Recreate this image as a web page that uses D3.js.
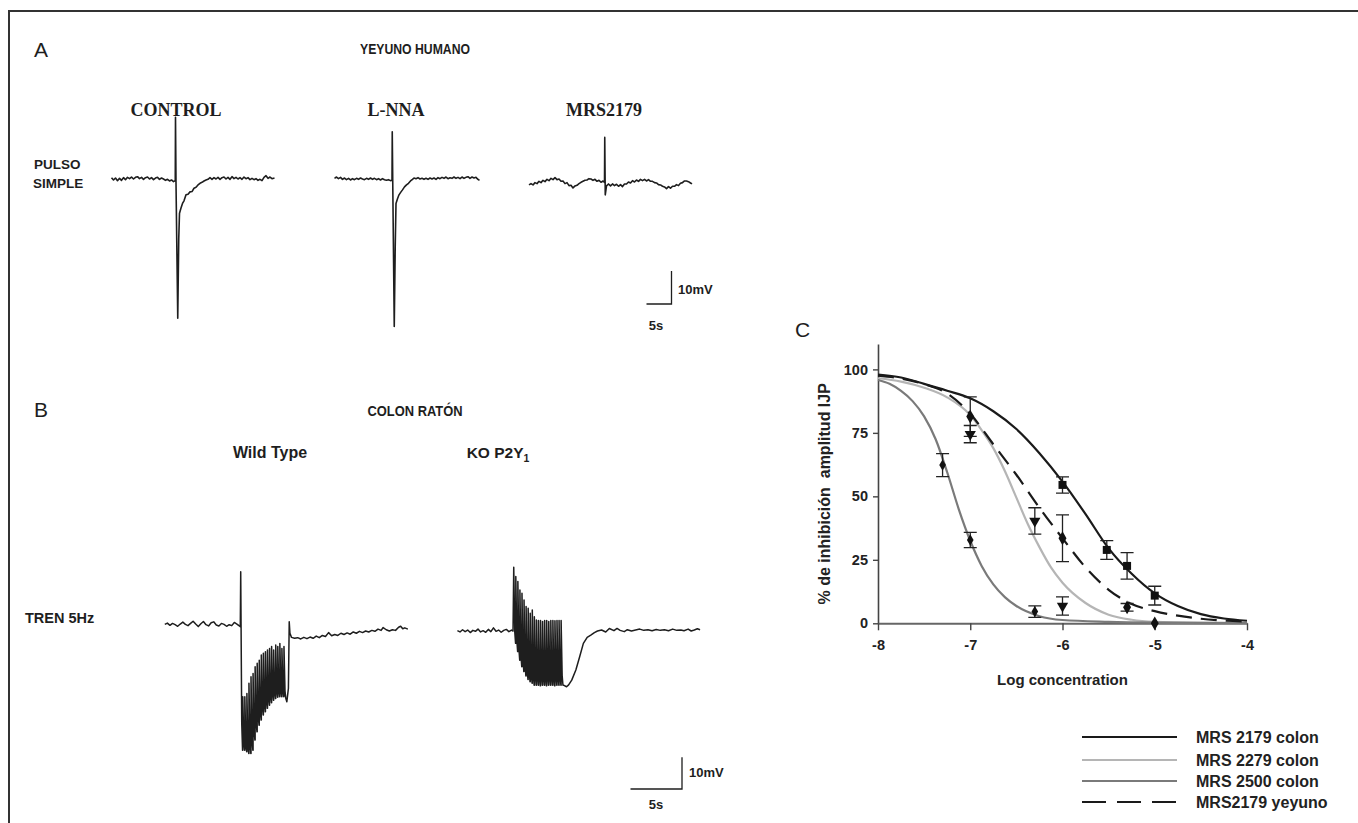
<!DOCTYPE html>
<html><head><meta charset="utf-8">
<script src="https://cdn.jsdelivr.net/npm/d3@7"></script>
<style>
html,body{margin:0;padding:0;background:#fff;}
svg{display:block;font-family:"Liberation Sans",Arial,sans-serif;}
</style></head><body>
<svg id="fig" width="1358" height="823"></svg>
<script>
// ---------- Panel C data ----------
const xTicksC = [-8, -7, -6, -5, -4];
const yTicksC = [0, 25, 50, 75, 100];
const legendLabels = ["MRS 2179 colon", "MRS 2279 colon", "MRS 2500 colon", "MRS2179 yeyuno"];

const fitColon2179 = [[-8,98],[-7.75,96.8],[-7.5,94.3],[-7.25,91.6],[-7,88.6],[-6.75,83.5],[-6.5,76.5],[-6.25,67],[-6,55.8],[-5.75,43],[-5.5,29.5],[-5.25,19.5],[-5,11.8],[-4.75,6.8],[-4.5,3.6],[-4.25,1.9],[-4,1]];
const fitColon2279 = [[-8,96.5],[-7.75,95.2],[-7.5,92.8],[-7.25,89],[-7,82],[-6.875,76],[-6.75,69],[-6.625,60],[-6.5,49.5],[-6.375,39],[-6.25,30],[-6.125,22],[-6,16],[-5.75,8],[-5.5,3.4],[-5.25,1.4],[-5,0.6],[-4.5,0.2],[-4,0.1]];
const fitColon2500 = [[-8,95.8],[-7.875,94.3],[-7.75,91.5],[-7.625,87.5],[-7.5,81.5],[-7.375,72.5],[-7.25,59.5],[-7.125,45],[-7,32.5],[-6.875,22.5],[-6.75,15.3],[-6.625,10.3],[-6.5,6.8],[-6.25,2.8],[-6,1.3],[-5.5,0.6],[-5,0.3],[-4,0.1]];
const fitYeyuno2179 = [[-8,97.5],[-7.75,96.4],[-7.5,94.2],[-7.25,90.5],[-7,82.5],[-6.75,70.5],[-6.5,58.5],[-6.25,45.5],[-6,33.5],[-5.75,22],[-5.5,13.2],[-5.25,7.6],[-5,4.8],[-4.75,3],[-4.5,1.8],[-4.25,1.1],[-4,0.7]];

const concColon2179 = [-6, -5.52, -5.3, -5];
const meanColon2179 = [54.5, 28.9, 22.6, 10.9];
const semColon2179  = [3.2, 3.7, 5.2, 3.7];
const concColon2279 = [-7, -6.3, -6];
const meanColon2279 = [74.5, 40.3, 6.8];
const semColon2279  = [3.4, 5.2, 3.6];
const concColon2500 = [-7.3, -7, -6.3];
const meanColon2500 = [62.3, 32.8, 4.6];
const semColon2500  = [4.5, 3.0, 2.3];
const concYeyuno2179 = [-7, -6, -5.3, -5];
const meanYeyuno2179 = [81.4, 33.5, 6.3, 0];
const semYeyuno2179  = [7.8, 9.2, 1.5, 0];

// ---------- Panel A traces (t in s, v in mV) ----------
const traceControl = [[0,0.4],[0.4,-0.3],[0.8,0.3],[1.2,-0.5],[1.6,0.2],[2,-0.4],[2.4,0.4],[2.8,-0.2],[3.2,0.5],[3.6,0.1],[4,0.6],[4.4,0],[4.8,0.5],[5.2,0.7],[5.6,0.1],[6,0.5],[6.4,-0.1],[6.8,0.4],[7.2,0.6],[7.6,0],[8,0.4],[8.4,-0.2],[8.8,0.3],[9.2,0.5],[9.6,-0.1],[10,0.3],[10.4,0],[10.8,-0.4],[11.2,-0.1],[11.6,-0.6],[12,-0.3],[12.4,-0.8],[12.75,-0.5],[12.8,18.7],[12.9,-1],[13.25,-42.2],[13.45,-18],[13.6,-10.4],[13.9,-8.8],[14.2,-7.4],[14.5,-6.6],[14.9,-4.8],[15.3,-4.6],[15.7,-3.9],[16.1,-3.8],[16.5,-2.8],[16.9,-2.5],[17.3,-1.8],[17.7,-1.3],[18.1,-1.0],[18.5,-0.6],[18.9,-0.3],[19.3,-0.1],[19.7,0.4],[20.1,-0.1],[20.5,0.4],[20.9,0],[21.3,0.5],[21.7,-0.1],[22.1,0.4],[22.5,0.6],[22.9,0],[23.3,0.5],[23.7,-0.1],[24.1,0.7],[24.5,0.1],[24.9,0.5],[25.3,0],[25.7,0.4],[26.1,-0.1],[26.5,0.6],[26.9,0.1],[27.3,0.4],[27.7,-0.2],[28.1,0.2],[28.5,-0.2],[28.9,0.1],[29.3,-0.4],[29.7,-0.1],[30.1,-0.5],[30.5,0.5],[30.9,1.0],[31.3,0.2],[31.7,0.6],[32.1,0.1],[32.6,0.3]];
const traceLNNA = [[0,0.2],[0.4,0.6],[0.8,0.1],[1.2,0.5],[1.6,-0.1],[2,0.3],[2.4,-0.2],[2.8,0.2],[3.2,-0.3],[3.6,0.1],[4,-0.2],[4.4,0.2],[4.8,-0.1],[5.2,0.3],[5.6,0],[6,-0.2],[6.4,0.2],[6.8,-0.1],[7.2,0.3],[7.6,-0.1],[8,0.2],[8.4,-0.2],[8.8,0.1],[9.2,-0.3],[9.6,0.1],[10,-0.2],[10.4,-0.4],[10.8,-0.2],[11.2,-0.5],[11.5,-0.4],[11.55,14.3],[11.65,-1],[11.95,-44.7],[12.15,-20],[12.3,-7.4],[12.6,-6],[12.9,-4.8],[13.3,-3.9],[13.6,-3.3],[14.0,-2.4],[14.4,-1.8],[14.8,-1.3],[15.2,-0.6],[15.6,-0.1],[15.9,0.3],[16.3,0.1],[16.7,0.4],[17.1,0],[17.5,0.2],[17.9,-0.1],[18.3,0.2],[18.7,-0.1],[19.1,0.3],[19.5,0],[19.9,0.3],[20.3,-0.1],[20.7,0.4],[21.1,0.1],[21.5,0.5],[21.9,0.2],[22.3,0.6],[22.7,0.1],[23.1,0.4],[23.5,0.2],[23.9,0.6],[24.3,0.2],[24.7,0.5],[25.1,0.1],[25.5,0.6],[25.9,0.2],[26.3,0.5],[26.7,0.7],[27.1,0.2],[27.5,0.6],[27.9,0.3],[28.3,0.5],[28.6,0],[29,-0.4]];
const traceMRS2179 = [[0,-1.8],[0.4,-1.4],[0.8,-1.8],[1.2,-1.1],[1.6,-1.4],[2,-0.7],[2.4,-1.1],[2.8,-0.4],[3.2,-0.8],[3.6,-0.1],[4,-0.5],[4.4,0.2],[4.8,-0.2],[5.2,0.4],[5.6,-0.2],[6,0],[6.4,-0.7],[6.8,-0.6],[7.2,-1.4],[7.6,-1.1],[8,-2.0],[8.4,-1.9],[8.8,-2.7],[9.2,-2.1],[9.6,-1.9],[10,-1.4],[10.4,-1.0],[10.8,-0.7],[11.2,-0.4],[11.6,-0.3],[12,0.1],[12.4,0],[12.8,-0.4],[13.2,-0.1],[13.6,-0.7],[14,-0.4],[14.4,-1.0],[14.8,-0.6],[15.1,-1.0],[15.15,12.6],[15.25,-4.8],[15.5,-2.1],[15.9,-1.5],[16.3,-2.1],[16.7,-1.5],[17.1,-2.0],[17.5,-1.6],[17.9,-2.2],[18.3,-1.7],[18.7,-2.3],[19.1,-1.5],[19.5,-1.5],[19.9,-0.9],[20.3,-1.2],[20.7,-0.5],[21.1,-0.9],[21.5,-0.3],[21.9,-0.7],[22.3,-0.1],[22.7,-0.5],[23.1,-0.1],[23.5,-0.6],[23.9,-0.2],[24.3,-0.7],[24.7,-0.7],[25.1,-1.1],[25.5,-1.2],[25.9,-1.7],[26.3,-1.8],[26.7,-2.2],[27.1,-2.4],[27.5,-2.9],[27.9,-2.3],[28.3,-2.8],[28.7,-2.2],[29.1,-2.2],[29.5,-1.7],[29.9,-2.0],[30.3,-1.3],[30.7,-1.1],[31.1,-0.6],[31.5,-0.6],[31.9,-0.8],[32.3,-1.2],[32.6,-1.5]];

// ---------- Panel B traces ----------
const trainPeriod = 0.2; // 5 Hz
const wtPre = [[0,0.2],[0.25,0.6],[0.5,-0.1],[0.75,0.5],[1,0.1],[1.25,-0.4],[1.5,0.3],[1.75,0.9],[2,0.2],[2.25,-0.2],[2.5,0.5],[2.75,1.2],[3,0.3],[3.25,-0.5],[3.5,0.4],[3.75,1.1],[4,0.1],[4.25,-0.3],[4.5,0.7],[4.75,1.0],[5,0],[5.25,-0.3],[5.5,0.5],[5.75,0.2],[6,-0.4],[6.25,0.1],[6.5,-0.2],[6.75,0.8],[7,0.3],[7.2,-0.2],[7.33,-0.5]];
const wtTrainStart = 7.37;
const wtTrainTop = [16.8,-22.6,-22.6,-21.6,-18.4,-16.3,-15.3,-13.2,-12.1,-11.1,-9.5,-8.9,-8.4,-7.9,-7.4,-6.8,-7.9,-6.3,-6.8,-5.8,-7.4,-6.8];
const wtTrainBottom = [-39.5,-39.5,-40,-40.5,-40.5,-39.5,-36.3,-33.7,-31.6,-30,-28.4,-27.4,-26.3,-25.3,-24.5,-23.7,-23.2,-22.8,-22.6,-22.6,-22.6,-23.2];
const wtPost = [[11.75,-23.2],[11.85,-24.2],[12.0,-20],[12.08,1.0],[12.15,-2.6],[12.3,-3.9],[12.6,-4.2],[12.9,-4.0],[13.2,-4.4],[13.5,-3.9],[13.8,-4.3],[14.1,-3.8],[14.4,-4.2],[14.7,-3.5],[15.0,-4.0],[15.3,-3.3],[15.6,-3.6],[15.9,-2.4],[16.2,-3.4],[16.5,-3.0],[16.8,-3.3],[17.1,-2.6],[17.4,-3.0],[17.7,-2.5],[18.0,-2.9],[18.3,-2.2],[18.6,-2.6],[18.9,-2.0],[19.2,-2.4],[19.5,-1.9],[19.8,-2.2],[20.1,-1.7],[20.4,-2.0],[20.7,-1.3],[21.0,-1.7],[21.2,-0.8],[21.5,-1.5],[21.8,-1.9],[22.1,-1.5],[22.4,-1.7],[22.7,-0.7],[22.9,-0.4],[23.1,-1.2],[23.3,-0.9],[23.6,-1.3]];

const koPre = [[0,0.1],[0.25,-0.3],[0.5,0.4],[0.75,-0.2],[1,0.3],[1.25,-0.5],[1.5,0.2],[1.75,-0.1],[2,0.6],[2.25,-0.3],[2.5,0.1],[2.75,-0.4],[3,0.5],[3.25,-0.2],[3.5,1.0],[3.75,-0.1],[4,0.3],[4.25,-0.4],[4.5,0.2],[4.75,0.5],[5,-0.2],[5.25,0.3],[5.4,0]];
const koTrainStart = 5.47;
const koTrainTop = [20.1,17.2,15.6,12.9,11.9,9.8,7.7,7.2,5.6,6.6,4.5,3.5,3.3,3.3,3.0,3.3,3.3,3.0,3.3,3.3,3.2,3.3,3.3,3.3];
const koTrainBottom = [-3.9,-6.5,-9.2,-11.3,-12.8,-14.2,-15.3,-16,-16.5,-17.1,-17.1,-17.1,-17.3,-17.1,-17.1,-17.3,-17.1,-17.1,-17.1,-17.3,-17.1,-17.1,-17.1,-17.1];
const koPost = [[10.3,-17.1],[10.6,-17.6],[10.8,-17],[11.1,-15.5],[11.5,-12.3],[11.87,-8.1],[12.23,-3.9],[12.6,-2],[12.95,-1.3],[13.3,-0.5],[13.6,0],[14,0.3],[14.4,-0.3],[14.75,0.8],[15.2,0.1],[15.5,0.8],[15.8,0.2],[16.2,-0.2],[16.5,0.4],[16.9,0],[17.3,0.3],[17.7,0.6],[18.1,0.2],[18.5,0.4],[18.9,0.1],[19.3,0.5],[19.7,0.2],[20.1,0.4],[20.5,0.1],[20.9,0.6],[21.3,0.2],[21.7,0.3],[22,0.1],[22.4,0.6],[22.7,0.0],[23.0,0.3],[23.3,0.7],[23.56,0.4]];

// ---------- drawing ----------
const svg = d3.select("#fig");
const ink = "#1e1e1e";

svg.append("rect").attr("x", 9).attr("y", 11).attr("width", 1362).attr("height", 830)
  .attr("fill", "none").attr("stroke", "#333").attr("stroke-width", 2);

function txt(x, y, s, opts = {}) {
  const t = svg.append("text").attr("x", x).attr("y", y).text(s)
    .attr("font-size", opts.size || 14)
    .attr("font-weight", opts.weight || "bold")
    .attr("font-family", opts.family || null)
    .attr("text-anchor", opts.anchor || "start")
    .attr("fill", opts.fill || ink);
  if (opts.len) t.attr("textLength", opts.len).attr("lengthAdjust", "spacingAndGlyphs");
  return t;
}

// Panel labels & titles
txt(34, 57, "A", {size: 21, weight: "normal"});
txt(415, 54, "YEYUNO HUMANO", {size: 15.5, anchor: "middle", len: 110});
const serif = "'Liberation Serif','Times New Roman',serif";
txt(176, 116, "CONTROL", {size: 18, anchor: "middle", family: serif});
txt(396, 116, "L-NNA", {size: 18, anchor: "middle", family: serif});
txt(604, 116, "MRS2179", {size: 18, anchor: "middle", family: serif});
txt(34, 169, "PULSO", {size: 13.5});
txt(33, 188, "SIMPLE", {size: 13.5});

txt(34, 417, "B", {size: 21, weight: "normal"});
txt(415, 416, "COLON RATÓN", {size: 15.5, anchor: "middle", len: 95});
txt(270, 458, "Wild Type", {size: 16, anchor: "middle"});
const ko = txt(498, 458, "KO P2Y", {size: 15.5, anchor: "middle"});
ko.append("tspan").attr("font-size", 10.5).attr("dy", 4).text("1");
txt(25, 623, "TREN 5Hz", {size: 14.5});

// trace helper
function drawTrace(pts, x0, y0, pxPerSec, pxPerMv, w) {
  const xs = d3.scaleLinear().domain([0, 1]).range([x0, x0 + pxPerSec]);
  const ys = d3.scaleLinear().domain([0, 1]).range([y0, y0 - pxPerMv]);
  svg.append("path").datum(pts)
    .attr("d", d3.line().x(d => xs(d[0])).y(d => ys(d[1])))
    .attr("fill", "none").attr("stroke", ink).attr("stroke-width", w)
    .attr("stroke-linejoin", "round");
}
// each 5 Hz pulse: instantaneous rise to its peak, then decay to its trough
function trainPoints(t0, tops, bottoms) {
  const pts = [];
  tops.forEach((tp, i) => {
    const t = t0 + i * trainPeriod;
    if (i > 0) pts.push([t, bottoms[i - 1]]);
    pts.push([t, tp]);
    pts.push([t + 0.1, bottoms[i] + 0.15 * (tp - bottoms[i])]);
    pts.push([t + 0.18, bottoms[i]]);
  });
  return pts;
}
function scaleBar(xEnd, yBottom, secPx, mvPx, labelMvX, labelMvY, labelSX, labelSY) {
  svg.append("path")
    .attr("d", `M${xEnd - secPx},${yBottom}H${xEnd}V${yBottom - mvPx}`)
    .attr("fill", "none").attr("stroke", ink).attr("stroke-width", 1.3);
  txt(labelMvX, labelMvY, "10mV", {size: 13});
  txt(labelSX, labelSY, "5s", {size: 13, anchor: "middle"});
}

// Panel A
const aSec = 5, aMv = 3.3;
drawTrace(traceControl, 111.5, 179, aSec, aMv, 1.6);
drawTrace(traceLNNA, 334.5, 179, aSec, aMv, 1.6);
drawTrace(traceMRS2179, 529, 179, aSec, aMv, 1.6);
scaleBar(671.5, 304, 5 * aSec, 10 * aMv, 678, 294, 656, 330);

// Panel B
const bSec = 10.3, bMv = 3.17;
drawTrace(wtPre.concat(trainPoints(wtTrainStart, wtTrainTop, wtTrainBottom), wtPost), 164.8, 625, bSec, bMv, 1.5);
drawTrace(koPre.concat(trainPoints(koTrainStart, koTrainTop, koTrainBottom), koPost), 457.4, 631, bSec, bMv, 1.5);
scaleBar(682, 789, 5 * bSec, 10 * bMv, 689, 777, 656, 809);

// Panel C
txt(795, 337, "C", {size: 21, weight: "normal"});
const xC = d3.scaleLinear().domain([-8, -4]).range([878, 1247]);
const yC = d3.scaleLinear().domain([0, 110]).range([623.3, 344]);
const gC = svg.append("g");

const yAx = gC.append("g").attr("transform", `translate(${xC(-8)},0)`)
  .call(d3.axisLeft(yC).tickValues(yTicksC).tickSize(5).tickSizeOuter(0).tickPadding(5).tickFormat(d => String(d)));
const xAx = gC.append("g").attr("transform", `translate(0,${yC(0)})`)
  .call(d3.axisBottom(xC).tickValues(xTicksC).tickSize(7).tickSizeOuter(0).tickPadding(9).tickFormat(d => String(d)));
[yAx, xAx].forEach(a => {
  a.selectAll("text").attr("font-size", 14.5).attr("font-weight", "bold").attr("fill", "#222")
    .attr("font-family", "'Liberation Sans',Arial,sans-serif");
  a.selectAll("line").attr("stroke", "#444").attr("stroke-width", 1.4);
});
yAx.select(".domain").attr("stroke", "#444").attr("stroke-width", 1.6);
xAx.select(".domain").attr("stroke", "#666").attr("stroke-width", 2);

svg.append("text").attr("transform", `translate(830,${yC(51)}) rotate(-90)`)
  .attr("text-anchor", "middle").attr("font-size", 16).attr("font-weight", "bold").attr("fill", "#222")
  .style("white-space", "pre")
  .text("% de inhibición  amplitud IJP");
txt(xC(-6), 685, "Log concentration", {size: 15, anchor: "middle", fill: "#222"});

const lineGen = d3.line().x(d => xC(d[0])).y(d => yC(d[1])).curve(d3.curveMonotoneX);
const seriesStyles = [
  {fit: fitColon2179, color: "#1a1a1a", dash: null},
  {fit: fitColon2279, color: "#b5b5b5", dash: null},
  {fit: fitColon2500, color: "#7a7a7a", dash: null},
  {fit: fitYeyuno2179, color: "#1a1a1a", dash: "16,9"}
];
seriesStyles.forEach(s => {
  gC.append("path").datum(s.fit).attr("d", lineGen)
    .attr("fill", "none").attr("stroke", s.color).attr("stroke-width", 2.2)
    .attr("stroke-dasharray", s.dash);
});

const pointSets = [
  {c: concColon2179, m: meanColon2179, e: semColon2179, sym: d3.symbolSquare, size: 64, rot: 0},
  {c: concColon2279, m: meanColon2279, e: semColon2279, sym: d3.symbolTriangle, size: 55, rot: 180},
  {c: concColon2500, m: meanColon2500, e: semColon2500, sym: d3.symbolDiamond, size: 38, rot: 0},
  {c: concYeyuno2179, m: meanYeyuno2179, e: semYeyuno2179, sym: d3.symbolDiamond, size: 55, rot: 0}
];
pointSets.forEach(p => {
  p.c.forEach((c, i) => {
    if (p.e[i] > 0) {
      const x = xC(c), y1 = yC(p.m[i] + p.e[i]), y2 = yC(p.m[i] - p.e[i]);
      gC.append("path").attr("d", `M${x},${y1}V${y2}M${x - 6.5},${y1}H${x + 6.5}M${x - 6.5},${y2}H${x + 6.5}`)
        .attr("stroke", "#222").attr("stroke-width", 1.3).attr("fill", "none");
    }
  });
});
pointSets.forEach(p => {
  p.c.forEach((c, i) => {
    gC.append("path").attr("d", d3.symbol().type(p.sym).size(p.size)())
      .attr("transform", `translate(${xC(c)},${yC(p.m[i])}) rotate(${p.rot})`)
      .attr("fill", "#111");
  });
});

// Legend
const legendY = [737, 760, 781, 802];
legendLabels.forEach((lab, i) => {
  const s = seriesStyles[i];
  svg.append("line").attr("x1", 1082).attr("x2", 1177).attr("y1", legendY[i]).attr("y2", legendY[i])
    .attr("stroke", s.color).attr("stroke-width", 2.2).attr("stroke-dasharray", s.dash ? "24,11" : null);
  txt(1196, legendY[i] + 5.5, lab, {size: 16, fill: "#222"});
});
</script>
</body></html>
